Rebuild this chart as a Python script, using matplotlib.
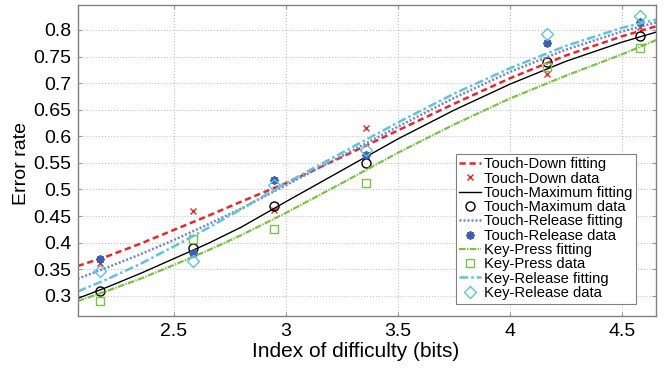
import matplotlib
matplotlib.use("Agg")
import matplotlib.pyplot as plt
import numpy as np

plt.rcParams['font.family'] = ['Liberation Sans', 'DejaVu Sans']

# measured data points
idx = [2.17, 2.585, 2.946, 3.358, 4.165, 4.58]
touch_down = [0.362, 0.460, 0.462, 0.616, 0.717, 0.806]
touch_max = [0.309, 0.390, 0.469, 0.549, 0.739, 0.789]
touch_rel = [0.370, 0.381, 0.518, 0.565, 0.775, 0.815]
key_press = [0.291, 0.407, 0.425, 0.513, 0.731, 0.767]
key_rel = [0.347, 0.366, 0.509, 0.574, 0.792, 0.826]

# fitted curves
fit_x = [2.07, 2.2, 2.35, 2.5, 2.65, 2.8, 3.0, 3.25, 3.5, 3.75, 4.0, 4.25, 4.5, 4.67]
fit_down = [0.356, 0.374, 0.398, 0.424, 0.450, 0.477, 0.512, 0.561, 0.611, 0.661, 0.709, 0.752, 0.788, 0.809]
fit_max = [0.295, 0.316, 0.342, 0.370, 0.398, 0.429, 0.477, 0.536, 0.595, 0.649, 0.698, 0.741, 0.777, 0.798]
fit_rel = [0.332, 0.353, 0.378, 0.405, 0.434, 0.464, 0.508, 0.563, 0.618, 0.672, 0.721, 0.763, 0.797, 0.816]
fit_press = [0.290, 0.309, 0.332, 0.358, 0.385, 0.414, 0.456, 0.512, 0.569, 0.622, 0.671, 0.714, 0.754, 0.784]
fit_krel = [0.308, 0.331, 0.360, 0.393, 0.427, 0.463, 0.512, 0.569, 0.626, 0.680, 0.728, 0.770, 0.804, 0.821]

red = '#e8262b'
blue = '#3d5db5'
green = '#7cc242'
cyan = '#5cc3e0'

fig = plt.figure(figsize=(6.65, 3.68), dpi=100)
ax = fig.add_axes([0.1173, 0.1413, 0.8692, 0.8451])

ax.plot(fit_x, fit_down, linestyle=(0, (2.5, 1.5)), color=red, lw=1.8, label='Touch-Down fitting')
ax.plot(idx, touch_down, 'x', color=red, ms=5, mew=1, label='Touch-Down data')
ax.plot(fit_x, fit_max, '-', color='black', lw=1.0, label='Touch-Maximum fitting')
ax.plot(idx, touch_max, 'o', mfc='none', mec='black', ms=6.5, mew=1, label='Touch-Maximum data')
ax.plot(fit_x, fit_rel, linestyle=(0, (0.8, 0.8)), color='#6f86d0', lw=1.8, label='Touch-Release fitting')
ax.plot(idx, touch_rel, marker=(8, 2, 0), ls='none', color=blue, ms=6, mew=1.3, label='Touch-Release data')
ax.plot(fit_x, fit_press, linestyle=(0, (3, 0.6, 0.6, 0.6)), color=green, lw=1.6, label='Key-Press fitting')
ax.plot(idx, key_press, 's', mfc='none', mec=green, ms=6, mew=1, label='Key-Press data')
ax.plot(fit_x, fit_krel, linestyle=(0, (3.5, 1.2, 1, 1.2)), color=cyan, lw=1.8, label='Key-Release fitting')
ax.plot(idx, key_rel, 'D', mfc='none', mec=cyan, ms=6, mew=1, label='Key-Release data')

ax.set_xlim(2.0714, 4.653)
ax.set_ylim(0.262, 0.847)
ax.set_xticks([2.5, 3, 3.5, 4, 4.5])
ax.set_xticklabels(['2.5', '3', '3.5', '4', '4.5'])
ax.set_yticks([0.3, 0.35, 0.4, 0.45, 0.5, 0.55, 0.6, 0.65, 0.7, 0.75, 0.8])
ax.set_yticklabels(['0.3', '0.35', '0.4', '0.45', '0.5', '0.55', '0.6', '0.65', '0.7', '0.75', '0.8'])
ax.tick_params(direction='in', length=3, labelsize=14, color='#999999', top=True, right=True, pad=5)
ax.grid(True, linestyle=':', color='#c8c8c8', lw=0.8)
for s in ax.spines.values():
    s.set_color('#808080')
    s.set_linewidth(1.0)

ax.set_xlabel('Index of difficulty (bits)', fontsize=15)
ax.xaxis.set_label_coords(0.481, -0.085)
ax.set_ylabel('Error rate', fontsize=14)
ax.yaxis.set_label_coords(-0.083, 0.49)

leg = ax.legend(loc='lower right', bbox_to_anchor=(0.966, 0.04), fontsize=10.6, handlelength=1.5,
                handletextpad=0.2, labelspacing=0.02, borderpad=0.25, fancybox=False,
                framealpha=1, edgecolor='#808080', borderaxespad=0)
leg.get_frame().set_linewidth(0.8)

fig.savefig('out.png', dpi=100)
